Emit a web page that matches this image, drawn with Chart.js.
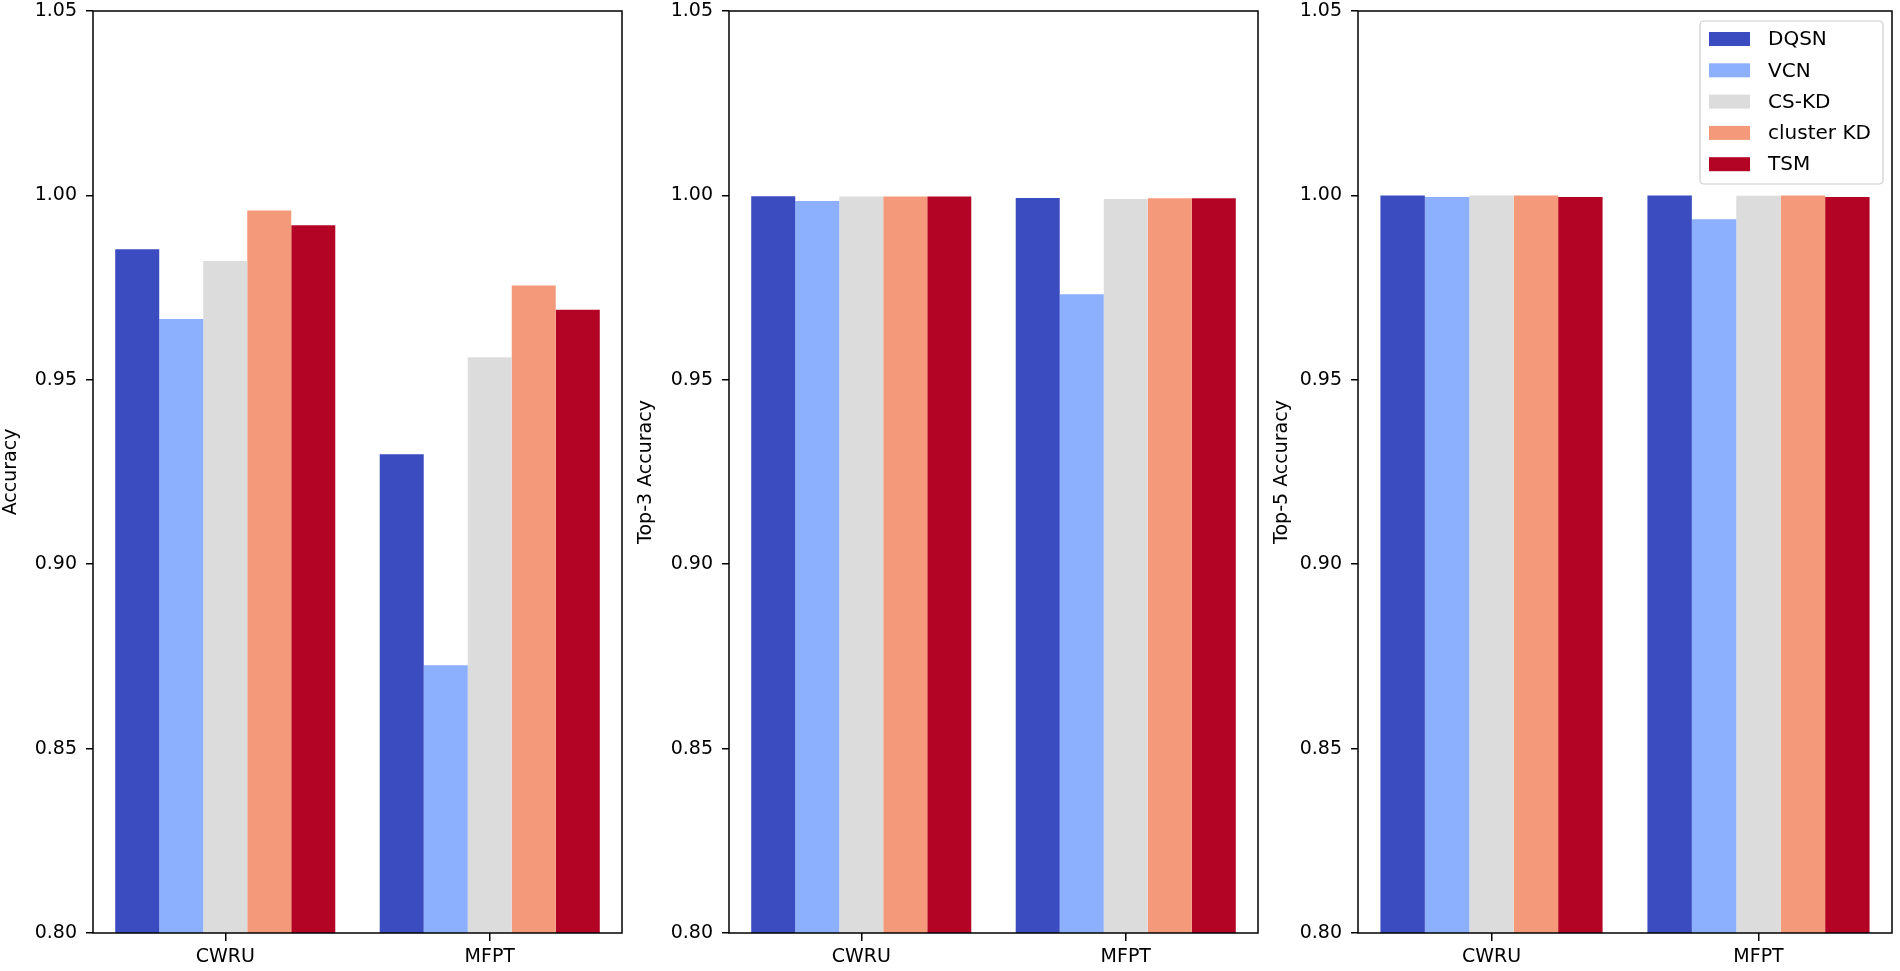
<!DOCTYPE html>
<html>
<head>
<meta charset="utf-8">
<script src="https://cdn.jsdelivr.net/npm/chart.js@4.4.1/dist/chart.umd.min.js"></script>
<style>
  body { margin: 0; background: #fff; }
  canvas { position: absolute; top: 0; }
</style>
</head>
<body>
<canvas id="acc" width="635" height="971" style="left:0px"></canvas>
<canvas id="top3" width="636" height="971" style="left:635px"></canvas>
<canvas id="top5" width="629" height="971" style="left:1271px"></canvas>
<script>
const categories = ["CWRU", "MFPT"];
const methods = ["DQSN", "VCN", "CS-KD", "cluster KD", "TSM"];
const colors = ["#3b4cc0", "#8db0fe", "#dddcdc", "#f49a7b", "#b40426"];
const yTicks = [0.8, 0.85, 0.9, 0.95, 1.0, 1.05];

// Accuracy
const accDQSN = [0.9854, 0.9298];
const accVCN = [0.9665, 0.8726];
const accCSKD = [0.9822, 0.9561];
const accCluster = [0.9959, 0.9756];
const accTSM = [0.9919, 0.969];

// Top-3 Accuracy
const top3DQSN = [0.9998, 0.9993];
const top3VCN = [0.9985, 0.9732];
const top3CSKD = [0.9997, 0.999];
const top3Cluster = [0.9997, 0.9992];
const top3TSM = [0.9997, 0.9992];

// Top-5 Accuracy
const top5DQSN = [1.0, 1.0];
const top5VCN = [0.9996, 0.9935];
const top5CSKD = [1.0, 0.9999];
const top5Cluster = [1.0, 1.0];
const top5TSM = [0.9996, 0.9996];

const FONT = "'DejaVu Sans', sans-serif";

const framePlugin = {
  id: "frame",
  afterDraw(chart) {
    const a = chart.chartArea;
    const ctx = chart.ctx;
    ctx.save();
    ctx.strokeStyle = "#000";
    ctx.lineWidth = 1.5;
    ctx.strokeRect(a.left, a.top, a.right - a.left, a.bottom - a.top);
    ctx.restore();
  },
};

const legendPlugin = {
  id: "innerLegend",
  afterDraw(chart) {
    const a = chart.chartArea;
    const ctx = chart.ctx;
    const w = 183, h = 163;
    const x = a.right - 9 - w, y = a.top + 10;
    ctx.save();
    ctx.fillStyle = "rgba(255,255,255,0.8)";
    ctx.strokeStyle = "#cccccc";
    ctx.lineWidth = 1.2;
    ctx.beginPath();
    ctx.roundRect(x, y, w, h, 4);
    ctx.fill();
    ctx.stroke();
    ctx.font = "20px " + FONT;
    ctx.textBaseline = "middle";
    chart.data.datasets.forEach((ds, i) => {
      const cy = y + 18 + i * 31.3;
      ctx.fillStyle = ds.backgroundColor;
      ctx.fillRect(x + 9, cy - 7, 41, 14);
      ctx.fillStyle = "#000";
      ctx.fillText(ds.label, x + 68, cy + 1);
    });
    ctx.restore();
  },
};

function makeChart(id, title, series, yWidth, padRight, withLegend) {
  new Chart(document.getElementById(id), {
    type: "bar",
    data: {
      labels: categories,
      datasets: series.map((vals, i) => ({
        label: methods[i],
        data: vals,
        backgroundColor: colors[i],
        borderWidth: 0,
        categoryPercentage: 0.832,
        barPercentage: 1.0,
      })),
    },
    options: {
      responsive: false,
      animation: false,
      layout: { padding: { top: 11, right: padRight, bottom: 0, left: 0 } },
      plugins: { legend: { display: false }, tooltip: { enabled: false } },
      scales: {
        x: {
          grid: {
            offset: false,
            drawOnChartArea: false,
            drawTicks: true,
            tickLength: 8,
            color: "#000",
            lineWidth: 1.5,
          },
          border: { display: false },
          ticks: { color: "#000", font: { family: FONT, size: 19 }, padding: 5 },
          afterFit(scale) {
            scale.height = 38;
            scale.paddingLeft = 0;
            scale.paddingRight = 0;
          },
        },
        y: {
          min: 0.8,
          max: 1.05,
          afterBuildTicks(scale) {
            scale.ticks = yTicks.map((v) => ({ value: v }));
          },
          grid: {
            drawOnChartArea: false,
            drawTicks: true,
            tickLength: 7,
            color: "#000",
            lineWidth: 1.5,
          },
          border: { display: false },
          ticks: {
            color: "#000",
            font: { family: FONT, size: 19 },
            padding: 9,
            callback: (v) => Number(v).toFixed(2),
          },
          title: {
            display: true,
            text: title,
            color: "#000",
            font: { family: FONT, size: 19 },
            padding: { top: 0, bottom: 0 },
          },
          afterFit(scale) {
            scale.width = yWidth;
            scale.paddingTop = 0;
            scale.paddingBottom = 0;
          },
        },
      },
    },
    plugins: withLegend ? [framePlugin, legendPlugin] : [framePlugin],
  });
}

makeChart("acc", "Accuracy", [accDQSN, accVCN, accCSKD, accCluster, accTSM], 93, 13, false);
makeChart("top3", "Top-3 Accuracy", [top3DQSN, top3VCN, top3CSKD, top3Cluster, top3TSM], 94, 13, false);
makeChart("top5", "Top-5 Accuracy", [top5DQSN, top5VCN, top5CSKD, top5Cluster, top5TSM], 87, 8, true);
</script>
</body>
</html>
